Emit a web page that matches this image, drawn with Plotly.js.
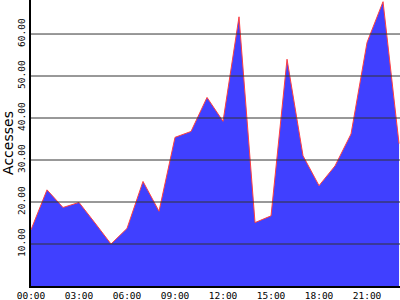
<!DOCTYPE html>
<html>
<head>
<meta charset="utf-8">
<script src="https://cdn.plot.ly/plotly-3.0.1.min.js"></script>
<style>html,body{margin:0;padding:0;background:#fff;}#chart{width:400px;height:300px;}</style>
</head>
<body>
<div id="chart"></div>
<script>
var hours = [0,1,2,3,4,5,6,7,8,9,10,11,12,13,14,15,16,17,18,19,20,21,22,23];
var accesses = [13.4,22.9,18.7,19.9,15.0,10.0,13.7,24.9,17.8,35.4,36.8,44.9,39.2,64.1,15.1,16.7,54.0,31.0,23.9,28.6,36.2,58.0,67.7,33.9];
var xTickVals = [0,3,6,9,12,15,18,21];
var xTickText = ['00:00','03:00','06:00','09:00','12:00','15:00','18:00','21:00'];
var yTickVals = [10,20,30,40,50,60];

var gridShapes = yTickVals.map(function(v){
  return {type:'line', xref:'paper', x0:0, x1:1, yref:'y', y0:v, y1:v,
          line:{color:'#333333', width:1}, layer:'above'};
});

var trace = {
  x: hours, y: accesses, type:'scatter', mode:'lines',
  fill:'tozeroy', fillcolor:'#4040ff',
  line:{color:'#ff4040', width:1}
};

var mono = {family:'DejaVu Sans Mono', size:9.5, color:'#000'};
var layout = {
  width:400, height:300,
  margin:{l:31, r:0, t:0, b:14, pad:0},
  paper_bgcolor:'#fff', plot_bgcolor:'#fff',
  showlegend:false,
  shapes: gridShapes,
  xaxis:{range:[0,23.06], tickvals:xTickVals, ticktext:xTickText, showgrid:false,
         zeroline:false, showline:true, linecolor:'#000', linewidth:2, ticks:'',
         tickfont:mono, fixedrange:true, layer:'above traces'},
  yaxis:{range:[0,68.1], tickvals:yTickVals, tickformat:'.2f', tickangle:-90,
         showgrid:false, zeroline:false, showline:true, linecolor:'#000', linewidth:2,
         ticks:'', tickfont:mono, fixedrange:true, layer:'above traces',
         title:{text:'Accesses', font:{family:'DejaVu Sans', size:14, color:'#000'}, standoff:2}}
};
Plotly.newPlot('chart', [trace], layout, {displayModeBar:false, staticPlot:true});
</script>
</body>
</html>
